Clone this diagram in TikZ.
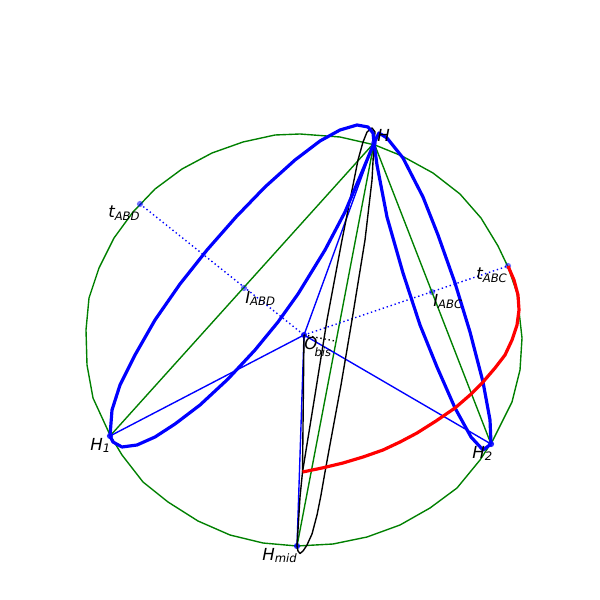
\documentclass[tikz,border=0pt]{standalone}
\usepackage{fontspec}
\setmainfont{DejaVu Sans}
\usepackage{tikz}
\tikzset{
  pt/.style={circle,fill=blue,fill opacity=0.55,inner sep=0pt,minimum size=4.5pt},
  ptdark/.style={pt,fill opacity=0.85},
  lab/.style={anchor=base west,inner sep=0pt,font=\fontsize{12}{14}\selectfont\itshape},
  sphere/.style={green!50!black,line width=1pt,line join=round},
  thinblue/.style={blue,line width=1pt},
  thickblue/.style={blue,line width=2.3pt,line join=round},
  thinblack/.style={black,line width=1pt,line join=round},
}
\newcommand{\sublab}[3][1.5pt]{#2\raisebox{-#1}{\fontsize{8.4}{10}\selectfont #3}}
\begin{document}
\begin{tikzpicture}[x=0.01in,y=-0.01in]
\useasboundingbox (0,0) rectangle (600,600);

% outline
\draw [sphere] (300,134) -- (275,135) -- (243,142) -- (212,153) -- (182,169) -- (155,189) -- (133,212) -- (114,238) -- (99,268) -- (89,298) -- (86,330) -- (87,365) -- (93,398) -- (110,435) -- (122,455) -- (143,482) -- (168,502) -- (198,521) -- (230,535) -- (263,543) -- (297,546) -- (333,544) -- (367,537) -- (400,525) -- (430,508) -- (457,488) -- (480,460) -- (493,440) -- (512,402) -- (520,370) -- (522,338) -- (517,293) -- (508,267) -- (498,246) -- (481,218) -- (460,194) -- (433,173) -- (402,156) -- (375,145) -- (340,137) -- cycle;

% points
\node [pt] (H) at (374,143) {};
\node [ptdark] (H1) at (110,436) {};
\node [ptdark] (H2) at (491,444) {};
\node [ptdark] (Hmid) at (297,546) {};
\node [ptdark] (Obis) at (304,335) {};
\node [pt] (IABD) at (244,288) {};
\node [pt] (IABC) at (432,292) {};
\node [pt] (tABD) at (140,204) {};
\node [pt] (tABC) at (508,266) {};
\coordinate (Oend) at (335,341);
\coordinate (Rstart) at (302.5,472);

\draw [sphere] (H.center) -- (H1.center);
\draw [sphere] (H.center) -- (H2.center);
\draw [sphere] (H.center) -- (Hmid.center);

\draw [thinblue] (Obis.center) -- (H.center);
\draw [thinblue] (Obis.center) -- (H1.center);
\draw [thinblue] (Obis.center) -- (H2.center);
\draw [thinblue] (Obis.center) -- (Hmid.center);
\draw [thinblue,dotted] (tABD.center) -- (Obis.center);
\draw [thinblue,dotted] (Obis.center) -- (tABC.center);
\draw [black,line width=1pt,dotted] (Obis.center) -- (Oend);

% black loops
\draw [thinblack] (Obis.center) -- (Rstart);
\draw [thinblack] (Hmid.center) -- (300,497) -- (Rstart) -- (315,395) -- (327,320) -- (342,240) -- (358,160) -- (363,142) -- (367,132) -- (372,128) -- (375,132) -- (H.center);
\draw [thinblack] (H.center) -- (372,180) -- (365,240) -- (352,320) -- (341,385) -- (329,450) -- (325,472) -- (321,495) -- (317,515) -- (312,534) -- (307,545) -- (303,551) -- (300,553.5) -- (298,551) -- (Hmid.center);

% thick arcs
\draw [thickblue] (H1.center) -- (112,410) -- (120,385) -- (135,355) -- (155,320) -- (180,284) -- (207,250) -- (236,217) -- (265,187) -- (295,160) -- (320,141) -- (340,130) -- (357,125) -- (368,127) -- (373,133) -- (H.center);
\draw [thickblue] (H1.center) -- (113,442) -- (122,447) -- (137,445) -- (155,437) -- (175,424) -- (200,405) -- (228,379) -- (255,350) -- (278,322) -- (298,294) -- (325,250) -- (345,212) -- (362,172) -- (H.center);
\draw [thickblue] (H.center) -- (379,133) -- (387,138) -- (403,158) -- (423,197) -- (438,235) -- (455,283) -- (470,332) -- (483,382) -- (490,420) -- (H2.center);
\draw [thickblue] (H.center) -- (377,165) -- (387,217) -- (403,273) -- (420,325) -- (437,367) -- (455,408) -- (471,437) -- (483,450) -- (H2.center);

\draw [red,line width=2.3pt,line join=round] (Rstart) -- (322,468) -- (343,463) -- (363,457) -- (383,450) -- (400,442) -- (417,433) -- (436,421) -- (455,408) -- (470,395) -- (483,382) -- (495,368) -- (505,355) -- (512,340) -- (517,325) -- (519,310) -- (518,295) -- (514,280) -- (tABC.center);

% labels
\node [lab] (labH) at (377,142) {H};
\node [lab] (labH1) at (90,450) {\sublab{H}{1}};
\node [lab] (labH2) at (472,458) {\sublab{H}{2}};
\node [lab] (labHmid) at (262,560) {\sublab{H}{mid}};
\node [lab] (labObis) at (304,349) {\sublab[5.5pt]{O}{\hspace{-2pt}bis}};
\node [lab] (labIABD) at (245,303) {\sublab{I}{ABD}};
\node [lab] (labIABC) at (433,306) {\sublab{I}{ABC}};
\node [lab] (labtABD) at (108,218) {\sublab{t}{ABD}};
\node [lab] (labtABC) at (476,280) {\sublab{t}{ABC}};
\end{tikzpicture}
\end{document}
